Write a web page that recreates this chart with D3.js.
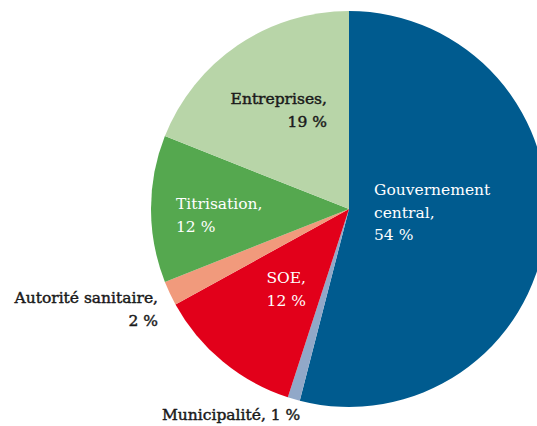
<!DOCTYPE html>
<html>
<head>
<meta charset="utf-8">
<script src="https://cdn.jsdelivr.net/npm/d3@7"></script>
<style>
body { margin: 0; background: #fff; }
text { font-family: "DejaVu Serif", serif; font-size: 15.5px; }
</style>
</head>
<body>
<script>
const categories = ['Gouvernement central', 'Municipalité', 'SOE', 'Autorité sanitaire', 'Titrisation', 'Entreprises'];
const values = [54, 1, 12, 2, 12, 19];
const colors = ['#005b8f', '#91a8c8', '#e2001a', '#f19a7c', '#55a84f', '#b8d5a8'];

const width = 537, height = 426;
const cx = 349, cy = 209, radius = 198;

const svg = d3.select('body').append('svg').attr('width', width).attr('height', height);
const g = svg.append('g').attr('transform', `translate(${cx},${cy})`);

const pie = d3.pie().sort(null).value(d => d);
const arc = d3.arc().innerRadius(0).outerRadius(radius);

g.selectAll('path')
  .data(pie(values))
  .enter()
  .append('path')
  .attr('d', arc)
  .attr('fill', (d, i) => colors[i]);

// label layout: lines, anchor x, first baseline y, alignment, colour
const labels = [
  { lines: ['Gouvernement', 'central,', values[0] + ' %'], x: 374, y: 195, anchor: 'start', fill: '#fff' },
  { lines: ['Municipalité, ' + values[1] + ' %'], x: 162, y: 420, anchor: 'start', fill: '#1a1a1a', heavy: true },
  { lines: ['SOE,', values[2] + ' %'], x: 306, y: 283, anchor: 'end', fill: '#fff' },
  { lines: ['Autorité sanitaire,', values[3] + ' %'], x: 158, y: 303, anchor: 'end', fill: '#1a1a1a', heavy: true },
  { lines: ['Titrisation,', values[4] + ' %'], x: 176, y: 209, anchor: 'start', fill: '#fff' },
  { lines: ['Entreprises,', values[5] + ' %'], x: 327, y: 104, anchor: 'end', fill: '#1a1a1a', heavy: true }
];

labels.forEach(l => {
  const t = svg.append('text')
    .attr('text-anchor', l.anchor)
    .attr('fill', l.fill)
    .attr('stroke', l.heavy ? l.fill : 'none')
    .attr('stroke-width', l.heavy ? 0.45 : 0);
  l.lines.forEach((s, j) => {
    t.append('tspan').attr('x', l.x).attr('y', l.y + j * 22.5).text(s);
  });
});
</script>
</body>
</html>
